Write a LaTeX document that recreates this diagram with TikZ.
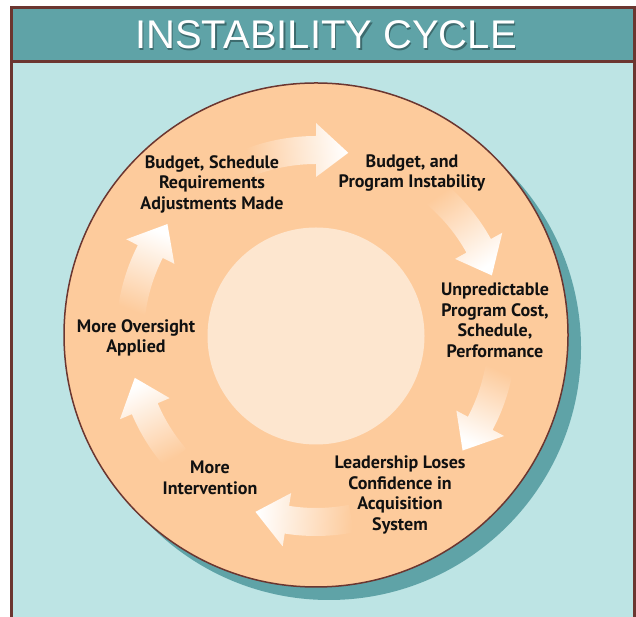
\documentclass[tikz,border=0pt]{standalone}
\usepackage{fontspec}
\newfontfamily\labelfont{PT Sans}
\newfontfamily\titlefont{Liberation Sans}
\definecolor{framebrown}{HTML}{6B3630}
\definecolor{titleteal}{HTML}{5FA3A7}
\definecolor{bodyblue}{HTML}{BDE4E4}
\definecolor{peach}{HTML}{FDCB9C}
\definecolor{corepeach}{HTML}{FDE6CF}
\definecolor{labeltext}{HTML}{111111}
\definecolor{titleshadow}{HTML}{3D6B6E}

% curved arrow along the ring: #1 tail angle, #2 tip angle
\newcommand{\cyclearrow}[2]{%
  \pgfmathsetmacro\headbase{#2+10}%
  \pgfmathsetmacro\shadeangle{(#1+#2)/2}%
  \shade[arrowshade, shading angle=\shadeangle]
    (#1:200) arc[start angle=#1, end angle=\headbase, radius=200]
    -- (\headbase:213) -- (#2:186) -- (\headbase:159) -- (\headbase:172)
    arc[start angle=\headbase, end angle=#1, radius=172] -- cycle;
}

\begin{document}
\begin{tikzpicture}[
    x=1pt, y=1pt,
    ring/.style={circle, draw=framebrown, line width=1.5pt, fill=peach, minimum size=504pt, inner sep=0pt},
    core/.style={circle, fill=corepeach, minimum size=217pt, inner sep=0pt},
    cyclelabel/.style={align=center, text=labeltext, font=\labelfont\bfseries\fontsize{18}{20.5}\selectfont},
    arrowshade/.style={left color=peach, right color=white},
    titletext/.style={font=\titlefont\fontsize{40}{40}\selectfont}
]
\useasboundingbox (0,0) rectangle (636,617);
\clip (0,0) rectangle (636,617);

% Frame
\fill[bodyblue] (11.7,555) rectangle (634.5,-10);
\fill[titleteal] (11.7,609) rectangle (634.5,555);
\draw[framebrown, line width=3pt] (11.7,-10) -- (11.7,609) -- (634.5,609) -- (634.5,-10);
\draw[framebrown, line width=3pt] (11.7,555) -- (634.5,555);

% Title
\node[titletext, text=titleshadow] (titleshadow) at (327.5,580.5) {INSTABILITY CYCLE};
\node[titletext, text=white] (title) at (326,582) {INSTABILITY CYCLE};

% Ring
\fill[titleteal] (329,269) circle[radius=252];
\node[ring] (ring) at (316,282) {};
\node[core] (core) at (316,281) {};

% Arrows
\begin{scope}[shift={(316,281)}]
  \cyclearrow{111}{80}
  \cyclearrow{50}{19}
  \cyclearrow{-9}{-38}
  \cyclearrow{-79}{-109}
  \cyclearrow{-139}{-167}
  \cyclearrow{174}{143}
\end{scope}

% Steps
\node[cyclelabel] (instab) at (412,444) {Budget, and\\Program Instability};
\node[cyclelabel] (unpred) at (495,297) {Unpredictable\\Program Cost,\\Schedule,\\Performance};
\node[cyclelabel] (leader) at (400,122) {Leadership Loses\\Confidence in\\Acquisition\\System};
\node[cyclelabel] (interv) at (210,139) {More\\Intervention};
\node[cyclelabel] (oversight) at (136,279) {More Oversight\\Applied};
\node[cyclelabel] (adjust) at (212,433) {Budget, Schedule\\Requirements\\Adjustments Made};

\end{tikzpicture}
\end{document}
